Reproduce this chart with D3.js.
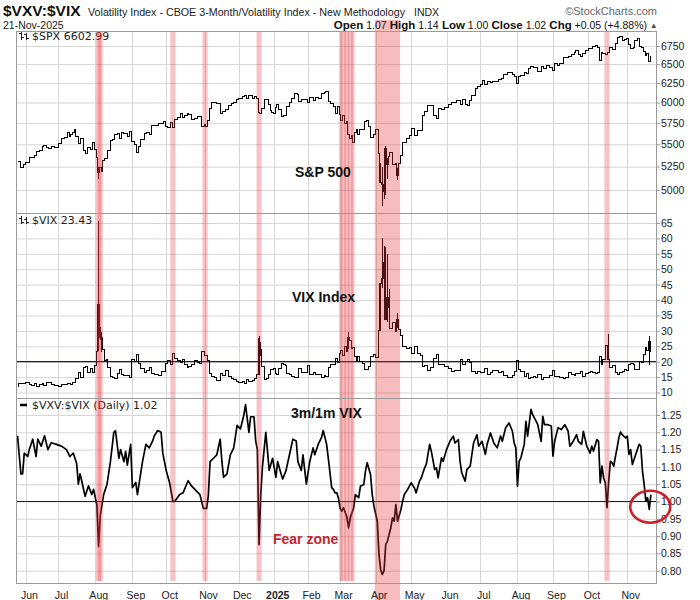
<!DOCTYPE html>
<html>
<head>
<meta charset="utf-8">
<script src="https://cdn.jsdelivr.net/npm/d3@7"></script>
<style>
  body { margin: 0; background: #fff; }
  svg { display: block; }
  text { font-family: "Liberation Sans", Arial, sans-serif; }
</style>
</head>
<body>
<svg id="chart" width="700" height="600"></svg>
<script>
'use strict';

// ---- data ----
const holidays = ['2024-05-27','2024-06-19','2024-07-04','2024-09-02','2024-11-28','2024-12-25',
  '2025-01-01','2025-01-09','2025-01-20','2025-02-17','2025-04-18','2025-05-26','2025-06-19',
  '2025-07-04','2025-09-01'];

const monthLabels = ['Jun','Jul','Aug','Sep','Oct','Nov','Dec','2025','Feb','Mar','Apr','May',
  'Jun','Jul','Aug','Sep','Oct','Nov'];

const spxTicks   = [5000, 5250, 5500, 5750, 6000, 6250, 6500, 6750];
const vixTicks   = [10, 15, 20, 25, 30, 35, 40, 45, 50, 55, 60, 65];
const ratioTicks = [0.80, 0.85, 0.90, 0.95, 1.00, 1.05, 1.10, 1.15, 1.20, 1.25];

// highlighted "fear" periods [start, end]
const fearBands = [
  ['2024-08-02','2024-08-07'], ['2024-08-05','2024-08-06'],
  ['2024-10-04','2024-10-08'], ['2024-10-31','2024-11-04'], ['2024-12-17','2024-12-19'],
  ['2025-03-03','2025-03-13'], ['2025-03-04','2025-03-04'], ['2025-03-06','2025-03-06'],
  ['2025-03-10','2025-03-10'], ['2025-03-12','2025-03-12'],
  ['2025-10-15','2025-10-17']
];
const bigBand = ['2025-04-01','2025-04-22'];

const spxClose = [
  ['2024-05-24',5305],['2024-05-28',5306],['2024-05-30',5236],['2024-05-31',5278],
  ['2024-06-04',5291],['2024-06-06',5352],['2024-06-07',5347],['2024-06-11',5375],['2024-06-12',5421],
  ['2024-06-14',5431],['2024-06-17',5473],['2024-06-18',5487],['2024-06-21',5465],['2024-06-24',5448],
  ['2024-06-26',5478],['2024-06-28',5460],
  ['2024-07-02',5509],['2024-07-05',5567],['2024-07-09',5577],['2024-07-10',5633],['2024-07-11',5585],
  ['2024-07-12',5615],['2024-07-15',5631],['2024-07-16',5667],['2024-07-17',5589],['2024-07-19',5505],
  ['2024-07-22',5564],['2024-07-24',5427],['2024-07-25',5399],['2024-07-26',5459],['2024-07-29',5464],
  ['2024-07-30',5436],['2024-07-31',5522],
  ['2024-08-01',5446],['2024-08-02',5346],['2024-08-05',5186],['2024-08-06',5240],['2024-08-07',5199],
  ['2024-08-08',5319],['2024-08-09',5344],['2024-08-12',5344],['2024-08-13',5434],['2024-08-15',5543],
  ['2024-08-16',5554],['2024-08-19',5608],['2024-08-21',5621],['2024-08-22',5571],['2024-08-23',5634],
  ['2024-08-27',5625],['2024-08-29',5592],['2024-08-30',5648],
  ['2024-09-03',5529],['2024-09-05',5503],['2024-09-06',5408],['2024-09-09',5471],['2024-09-11',5555],
  ['2024-09-13',5626],['2024-09-16',5633],['2024-09-18',5618],['2024-09-19',5714],['2024-09-23',5718],
  ['2024-09-26',5745],['2024-09-27',5738],['2024-09-30',5762],
  ['2024-10-01',5709],['2024-10-03',5700],['2024-10-04',5751],['2024-10-07',5696],['2024-10-09',5792],
  ['2024-10-11',5815],['2024-10-14',5859],['2024-10-15',5815],['2024-10-17',5841],['2024-10-18',5864],
  ['2024-10-21',5853],['2024-10-23',5797],['2024-10-25',5808],['2024-10-28',5823],['2024-10-29',5832],
  ['2024-10-31',5705],
  ['2024-11-01',5728],['2024-11-04',5712],['2024-11-05',5782],['2024-11-06',5929],['2024-11-08',5996],
  ['2024-11-11',6001],['2024-11-13',5985],['2024-11-15',5870],['2024-11-18',5894],['2024-11-20',5917],
  ['2024-11-22',5969],['2024-11-25',5987],['2024-11-27',5999],['2024-11-29',6032],
  ['2024-12-03',6050],['2024-12-05',6075],['2024-12-06',6090],['2024-12-09',6053],['2024-12-11',6084],
  ['2024-12-13',6051],['2024-12-16',6074],['2024-12-17',6051],['2024-12-18',5872],['2024-12-19',5867],
  ['2024-12-20',5931],['2024-12-24',6040],['2024-12-26',6037],['2024-12-27',5971],['2024-12-30',5907],
  ['2024-12-31',5882],
  ['2025-01-02',5869],['2025-01-03',5942],['2025-01-06',5975],['2025-01-07',5909],['2025-01-08',5918],
  ['2025-01-10',5827],['2025-01-13',5836],['2025-01-14',5843],['2025-01-15',5950],['2025-01-17',5997],
  ['2025-01-21',6049],['2025-01-23',6119],['2025-01-24',6101],['2025-01-27',6012],['2025-01-29',6039],
  ['2025-01-31',6041],
  ['2025-02-03',5994],['2025-02-05',6061],['2025-02-07',6026],['2025-02-10',6066],['2025-02-12',6052],
  ['2025-02-14',6115],['2025-02-18',6129],['2025-02-19',6144],['2025-02-21',6013],['2025-02-24',5983],
  ['2025-02-26',5956],['2025-02-27',5861],['2025-02-28',5955],
  ['2025-03-03',5850],['2025-03-04',5778],['2025-03-05',5842],['2025-03-06',5739],['2025-03-07',5770],
  ['2025-03-10',5614],['2025-03-11',5572],['2025-03-12',5599],['2025-03-13',5522],['2025-03-14',5639],
  ['2025-03-17',5675],['2025-03-18',5615],['2025-03-19',5675],['2025-03-21',5667],['2025-03-24',5768],
  ['2025-03-25',5777],['2025-03-26',5712],['2025-03-28',5581],['2025-03-31',5612],
  ['2025-04-02',5671],['2025-04-03',5397],['2025-04-04',5074],['2025-04-07',5062],['2025-04-08',4982],
  ['2025-04-09',5457],['2025-04-10',5268],['2025-04-11',5363],['2025-04-14',5406],['2025-04-16',5276],
  ['2025-04-17',5283],['2025-04-21',5158],['2025-04-22',5288],['2025-04-23',5376],['2025-04-25',5525],
  ['2025-04-29',5561],
  ['2025-05-01',5604],['2025-05-02',5687],['2025-05-06',5607],['2025-05-08',5664],['2025-05-09',5660],
  ['2025-05-12',5844],['2025-05-14',5892],['2025-05-16',5958],['2025-05-19',5964],['2025-05-21',5845],
  ['2025-05-23',5802],['2025-05-27',5922],['2025-05-29',5912],
  ['2025-06-02',5936],['2025-06-04',5971],['2025-06-06',6000],['2025-06-09',6006],['2025-06-11',6022],
  ['2025-06-13',5977],['2025-06-16',6033],['2025-06-18',5981],['2025-06-20',5967],['2025-06-23',6025],
  ['2025-06-25',6092],['2025-06-27',6173],['2025-06-30',6205],
  ['2025-07-02',6227],['2025-07-03',6279],['2025-07-07',6230],['2025-07-09',6263],['2025-07-11',6260],
  ['2025-07-14',6268],['2025-07-16',6264],['2025-07-18',6297],['2025-07-21',6306],['2025-07-23',6359],
  ['2025-07-25',6389],['2025-07-28',6390],['2025-07-30',6363],['2025-07-31',6339],
  ['2025-08-01',6238],['2025-08-04',6330],['2025-08-06',6345],['2025-08-08',6389],['2025-08-11',6374],
  ['2025-08-12',6446],['2025-08-14',6469],['2025-08-15',6450],['2025-08-18',6449],['2025-08-20',6396],
  ['2025-08-22',6467],['2025-08-25',6440],['2025-08-27',6481],['2025-08-29',6460],
  ['2025-09-02',6416],['2025-09-04',6502],['2025-09-05',6482],['2025-09-09',6513],['2025-09-11',6587],
  ['2025-09-12',6584],['2025-09-16',6607],['2025-09-18',6632],['2025-09-19',6664],['2025-09-22',6693],
  ['2025-09-24',6638],['2025-09-25',6605],['2025-09-26',6644],['2025-09-30',6688],
  ['2025-10-02',6715],['2025-10-03',6716],['2025-10-06',6740],['2025-10-08',6753],['2025-10-09',6735],
  ['2025-10-10',6553],['2025-10-13',6655],['2025-10-14',6644],['2025-10-16',6630],['2025-10-17',6664],
  ['2025-10-20',6735],['2025-10-22',6699],['2025-10-24',6792],['2025-10-27',6875],['2025-10-28',6891],
  ['2025-10-30',6822],['2025-10-31',6840],
  ['2025-11-03',6852],['2025-11-04',6771],['2025-11-06',6720],['2025-11-07',6728],['2025-11-10',6832],
  ['2025-11-12',6851],['2025-11-13',6737],['2025-11-14',6734],['2025-11-17',6672],['2025-11-18',6617],
  ['2025-11-19',6642],['2025-11-20',6538],['2025-11-21',6603]
];

// wide-range days [date, low, high]
const spxRange = [
  ['2024-08-05',5120,5250],['2025-04-03',5390,5500],['2025-04-04',5069,5292],['2025-04-07',4835,5246],
  ['2025-04-08',4910,5267],['2025-04-09',4950,5481],['2025-04-10',5116,5347],['2025-04-21',5101,5233]
];

const vixClose = [
  ['2024-05-24',11.9],['2024-05-28',12.9],['2024-05-30',13.0],['2024-05-31',12.9],
  ['2024-06-04',13.1],['2024-06-06',12.6],['2024-06-07',12.2],['2024-06-11',12.9],['2024-06-12',12.0],
  ['2024-06-14',12.7],['2024-06-17',12.8],['2024-06-18',12.3],['2024-06-21',13.2],['2024-06-24',13.3],
  ['2024-06-26',12.6],['2024-06-28',12.4],
  ['2024-07-02',12.0],['2024-07-05',12.5],['2024-07-09',12.5],['2024-07-10',12.9],['2024-07-11',12.9],
  ['2024-07-12',12.5],['2024-07-15',13.1],['2024-07-16',13.2],['2024-07-17',14.5],['2024-07-19',16.5],
  ['2024-07-22',14.9],['2024-07-24',18.0],['2024-07-25',18.5],['2024-07-26',16.4],['2024-07-29',16.6],
  ['2024-07-30',17.7],['2024-07-31',16.4],
  ['2024-08-01',18.6],['2024-08-02',23.4],['2024-08-05',38.6],['2024-08-06',27.7],['2024-08-07',27.9],
  ['2024-08-08',23.8],['2024-08-09',20.4],['2024-08-12',20.7],['2024-08-13',18.1],['2024-08-15',15.2],
  ['2024-08-16',14.8],['2024-08-19',14.7],['2024-08-21',16.3],['2024-08-22',17.6],['2024-08-23',15.9],
  ['2024-08-27',15.4],['2024-08-29',15.6],['2024-08-30',15.0],
  ['2024-09-03',20.7],['2024-09-05',19.9],['2024-09-06',22.4],['2024-09-09',19.5],['2024-09-11',17.7],
  ['2024-09-13',16.6],['2024-09-16',17.1],['2024-09-18',18.2],['2024-09-19',16.3],['2024-09-23',16.0],
  ['2024-09-26',15.4],['2024-09-27',16.9],['2024-09-30',16.7],
  ['2024-10-01',19.3],['2024-10-03',20.5],['2024-10-04',19.2],['2024-10-07',22.6],['2024-10-09',20.9],
  ['2024-10-11',20.5],['2024-10-14',19.7],['2024-10-15',20.6],['2024-10-17',19.1],['2024-10-18',18.0],
  ['2024-10-21',18.4],['2024-10-23',19.2],['2024-10-25',20.3],['2024-10-28',19.8],['2024-10-29',19.3],
  ['2024-10-31',23.2],
  ['2024-11-01',21.9],['2024-11-04',22.0],['2024-11-05',20.5],['2024-11-06',16.3],['2024-11-08',15.2],
  ['2024-11-11',15.0],['2024-11-13',14.0],['2024-11-15',16.1],['2024-11-18',15.6],['2024-11-20',17.2],
  ['2024-11-22',15.2],['2024-11-25',14.6],['2024-11-27',14.1],['2024-11-29',13.5],
  ['2024-12-03',13.3],['2024-12-05',13.5],['2024-12-06',12.8],['2024-12-09',14.2],['2024-12-11',13.6],
  ['2024-12-13',13.8],['2024-12-16',14.7],['2024-12-17',15.9],['2024-12-18',27.6],['2024-12-19',24.1],
  ['2024-12-20',18.4],['2024-12-24',14.3],['2024-12-26',14.7],['2024-12-27',15.9],['2024-12-30',17.4],
  ['2024-12-31',17.4],
  ['2025-01-02',17.9],['2025-01-03',16.1],['2025-01-06',16.0],['2025-01-07',17.8],['2025-01-08',17.7],
  ['2025-01-10',19.5],['2025-01-13',19.2],['2025-01-14',18.7],['2025-01-15',16.1],['2025-01-17',16.0],
  ['2025-01-21',15.1],['2025-01-23',15.0],['2025-01-24',14.9],['2025-01-27',17.9],['2025-01-29',16.6],
  ['2025-01-31',16.4],
  ['2025-02-03',18.6],['2025-02-05',15.8],['2025-02-07',16.5],['2025-02-10',15.8],['2025-02-12',15.9],
  ['2025-02-14',14.8],['2025-02-18',15.4],['2025-02-19',15.3],['2025-02-21',18.2],['2025-02-24',19.0],
  ['2025-02-26',19.1],['2025-02-27',21.1],['2025-02-28',19.6],
  ['2025-03-03',22.8],['2025-03-04',23.5],['2025-03-05',21.9],['2025-03-06',24.9],['2025-03-07',23.4],
  ['2025-03-10',27.9],['2025-03-11',26.9],['2025-03-12',24.2],['2025-03-13',24.7],['2025-03-14',21.8],
  ['2025-03-17',20.5],['2025-03-18',21.7],['2025-03-19',19.9],['2025-03-21',19.3],['2025-03-24',17.5],
  ['2025-03-25',17.5],['2025-03-26',18.3],['2025-03-28',21.7],['2025-03-31',22.3],
  ['2025-04-02',21.5],['2025-04-03',30.0],['2025-04-04',45.3],['2025-04-07',47.0],['2025-04-08',52.3],
  ['2025-04-09',33.6],['2025-04-10',40.7],['2025-04-11',37.6],['2025-04-14',30.9],['2025-04-16',32.6],
  ['2025-04-17',29.7],['2025-04-21',33.8],['2025-04-22',30.6],['2025-04-23',28.5],['2025-04-25',24.8],
  ['2025-04-29',24.2],
  ['2025-05-01',24.6],['2025-05-02',22.7],['2025-05-06',24.8],['2025-05-08',22.5],['2025-05-09',21.9],
  ['2025-05-12',18.4],['2025-05-14',18.6],['2025-05-16',17.2],['2025-05-19',18.1],['2025-05-21',20.9],
  ['2025-05-23',22.3],['2025-05-27',19.0],['2025-05-29',19.2],
  ['2025-06-02',18.4],['2025-06-04',17.7],['2025-06-06',16.8],['2025-06-09',17.2],['2025-06-11',17.3],
  ['2025-06-13',20.8],['2025-06-16',19.1],['2025-06-18',20.1],['2025-06-20',20.6],['2025-06-23',19.8],
  ['2025-06-25',16.8],['2025-06-27',16.3],['2025-06-30',16.7],
  ['2025-07-02',16.6],['2025-07-03',16.4],['2025-07-07',17.8],['2025-07-09',15.9],['2025-07-11',16.4],
  ['2025-07-14',17.2],['2025-07-16',17.2],['2025-07-18',16.4],['2025-07-21',16.7],['2025-07-23',15.4],
  ['2025-07-25',14.9],['2025-07-28',15.0],['2025-07-30',15.5],['2025-07-31',16.7],
  ['2025-08-01',20.4],['2025-08-04',17.5],['2025-08-06',16.8],['2025-08-08',15.2],['2025-08-11',16.3],
  ['2025-08-12',14.7],['2025-08-14',14.8],['2025-08-15',15.1],['2025-08-18',15.0],['2025-08-20',15.7],
  ['2025-08-22',14.2],['2025-08-25',14.8],['2025-08-27',14.9],['2025-08-29',15.4],
  ['2025-09-02',17.2],['2025-09-04',15.3],['2025-09-05',15.2],['2025-09-09',15.0],['2025-09-11',14.7],
  ['2025-09-12',14.8],['2025-09-16',16.4],['2025-09-18',15.7],['2025-09-19',15.5],['2025-09-22',16.1],
  ['2025-09-24',16.2],['2025-09-25',16.7],['2025-09-26',15.3],['2025-09-30',16.3],
  ['2025-10-02',16.6],['2025-10-03',16.7],['2025-10-06',16.4],['2025-10-08',16.3],['2025-10-09',16.4],
  ['2025-10-10',21.7],['2025-10-13',19.0],['2025-10-14',20.8],['2025-10-16',25.3],['2025-10-17',20.8],
  ['2025-10-20',18.2],['2025-10-22',18.6],['2025-10-24',16.4],['2025-10-27',15.8],['2025-10-28',16.4],
  ['2025-10-30',16.9],['2025-10-31',17.4],
  ['2025-11-03',17.2],['2025-11-04',19.0],['2025-11-06',19.5],['2025-11-07',19.1],['2025-11-10',17.6],
  ['2025-11-12',17.5],['2025-11-13',20.0],['2025-11-14',19.8],['2025-11-17',22.4],['2025-11-18',24.7],
  ['2025-11-19',23.7],['2025-11-20',26.4],['2025-11-21',23.4]
];

const vixRange = [
  ['2024-08-05',23.4,65.7],['2024-08-06',27.0,31.2],['2024-08-07',23.0,29.7],['2024-12-18',15.6,28.3],
  ['2024-12-19',22.0,26.5],['2025-03-10',24.0,29.5],['2025-04-04',30.0,45.6],['2025-04-07',44.0,60.1],
  ['2025-04-08',36.0,57.5],['2025-04-09',33.6,57.1],['2025-04-10',33.0,54.9],['2025-04-11',36.0,43.5],
  ['2025-04-21',31.0,35.8],['2025-10-17',20.8,29.0],['2025-11-20',19.0,28.3]
];

const ratioClose = [
  ['2024-05-24',1.19],['2024-05-29',1.08],['2024-05-30',1.08],['2024-05-31',1.14],
  ['2024-06-04',1.13],['2024-06-05',1.15],['2024-06-07',1.18],['2024-06-11',1.13],['2024-06-12',1.18],
  ['2024-06-14',1.16],['2024-06-18',1.19],['2024-06-21',1.15],['2024-06-25',1.17],['2024-06-28',1.165],
  ['2024-07-03',1.16],['2024-07-09',1.15],['2024-07-11',1.13],['2024-07-15',1.14],['2024-07-17',1.11],
  ['2024-07-18',1.05],['2024-07-19',1.08],['2024-07-22',1.06],['2024-07-24',1.015],['2024-07-26',1.045],
  ['2024-07-30',1.02],['2024-07-31',1.035],
  ['2024-08-02',0.99],['2024-08-05',0.87],['2024-08-06',0.96],['2024-08-08',1.02],['2024-08-12',1.05],
  ['2024-08-14',1.115],['2024-08-16',1.20],['2024-08-19',1.205],['2024-08-21',1.125],['2024-08-22',1.15],
  ['2024-08-26',1.115],['2024-08-27',1.145],['2024-08-28',1.105],['2024-08-30',1.165],
  ['2024-09-03',1.04],['2024-09-05',1.055],['2024-09-06',1.02],['2024-09-11',1.115],['2024-09-13',1.165],
  ['2024-09-17',1.155],['2024-09-19',1.175],['2024-09-20',1.19],['2024-09-24',1.205],['2024-09-26',1.20],
  ['2024-09-27',1.14],
  ['2024-10-01',1.09],['2024-10-03',1.055],['2024-10-07',1.00],['2024-10-08',1.00],['2024-10-11',1.02],
  ['2024-10-15',1.025],['2024-10-18',1.06],['2024-10-22',1.045],['2024-10-25',1.03],['2024-10-29',1.02],
  ['2024-10-31',0.98],
  ['2024-11-04',0.98],['2024-11-05',1.02],['2024-11-06',1.115],['2024-11-08',1.125],['2024-11-12',1.135],
  ['2024-11-14',1.18],['2024-11-15',1.115],['2024-11-18',1.07],['2024-11-20',1.08],['2024-11-22',1.135],
  ['2024-11-26',1.155],['2024-11-29',1.22],
  ['2024-12-03',1.21],['2024-12-05',1.25],['2024-12-06',1.28],['2024-12-10',1.20],['2024-12-11',1.245],
  ['2024-12-13',1.245],['2024-12-16',1.175],['2024-12-17',1.15],['2024-12-18',0.875],['2024-12-19',1.02],
  ['2024-12-20',1.10],['2024-12-24',1.20],['2024-12-26',1.145],['2024-12-27',1.09],['2024-12-31',1.125],
  ['2025-01-03',1.07],['2025-01-06',1.115],['2025-01-08',1.08],['2025-01-10',1.065],['2025-01-14',1.09],
  ['2025-01-16',1.135],['2025-01-21',1.18],['2025-01-23',1.175],['2025-01-24',1.115],['2025-01-28',1.09],
  ['2025-01-29',1.135],['2025-01-31',1.05],
  ['2025-02-04',1.115],['2025-02-06',1.155],['2025-02-07',1.135],['2025-02-11',1.165],['2025-02-13',1.185],
  ['2025-02-14',1.205],['2025-02-19',1.165],['2025-02-20',1.125],['2025-02-24',1.04],['2025-02-25',1.035],
  ['2025-02-26',1.025],['2025-02-27',1.025],['2025-02-28',1.01],
  ['2025-03-03',0.98],['2025-03-04',0.972],['2025-03-05',0.982],['2025-03-07',0.955],['2025-03-10',0.924],
  ['2025-03-11',0.953],['2025-03-13',0.982],['2025-03-14',1.02],['2025-03-18',1.011],['2025-03-19',1.044],
  ['2025-03-21',1.049],['2025-03-24',1.088],['2025-03-25',1.112],['2025-03-27',1.078],['2025-03-28',1.02],
  ['2025-03-31',0.987],
  ['2025-04-02',0.943],['2025-04-03',0.847],['2025-04-04',0.803],['2025-04-07',0.789],['2025-04-08',0.80],
  ['2025-04-09',0.876],['2025-04-10',0.885],['2025-04-11',0.905],['2025-04-14',0.924],['2025-04-15',0.953],
  ['2025-04-16',0.943],['2025-04-17',0.991],['2025-04-21',0.943],['2025-04-23',0.977],['2025-04-24',1.001],
  ['2025-04-25',1.02],['2025-04-29',1.035],
  ['2025-05-01',1.054],['2025-05-05',1.039],['2025-05-06',1.025],['2025-05-08',1.059],['2025-05-09',1.068],
  ['2025-05-13',1.097],['2025-05-14',1.107],['2025-05-16',1.165],['2025-05-19',1.145],['2025-05-21',1.092],
  ['2025-05-22',1.097],['2025-05-23',1.068],['2025-05-28',1.126],['2025-05-29',1.116],
  ['2025-06-02',1.15],['2025-06-04',1.174],['2025-06-06',1.189],['2025-06-09',1.169],['2025-06-11',1.179],
  ['2025-06-12',1.116],['2025-06-13',1.083],['2025-06-17',1.059],['2025-06-18',1.092],['2025-06-23',1.102],
  ['2025-06-25',1.169],['2025-06-27',1.193],['2025-06-30',1.16],
  ['2025-07-02',1.174],['2025-07-07',1.136],['2025-07-08',1.165],['2025-07-10',1.198],['2025-07-14',1.169],
  ['2025-07-16',1.155],['2025-07-18',1.189],['2025-07-21',1.174],['2025-07-23',1.213],['2025-07-25',1.227],
  ['2025-07-29',1.203],['2025-07-30',1.17],['2025-07-31',1.155],
  ['2025-08-01',1.044],['2025-08-04',1.116],['2025-08-05',1.126],['2025-08-07',1.165],['2025-08-08',1.232],
  ['2025-08-11',1.189],['2025-08-13',1.266],['2025-08-14',1.251],['2025-08-18',1.232],['2025-08-19',1.222],
  ['2025-08-21',1.174],['2025-08-22',1.246],['2025-08-25',1.222],['2025-08-27',1.222],['2025-08-29',1.218],
  ['2025-09-02',1.131],['2025-09-03',1.174],['2025-09-05',1.213],['2025-09-09',1.208],['2025-09-11',1.222],
  ['2025-09-15',1.203],['2025-09-16',1.16],['2025-09-18',1.174],['2025-09-22',1.193],['2025-09-23',1.174],
  ['2025-09-25',1.165],['2025-09-26',1.203],['2025-09-30',1.16],
  ['2025-10-02',1.14],['2025-10-03',1.16],['2025-10-06',1.145],['2025-10-08',1.179],['2025-10-09',1.174],
  ['2025-10-10',1.054],['2025-10-13',1.102],['2025-10-14',1.068],['2025-10-15',1.054],['2025-10-16',0.982],
  ['2025-10-17',1.059],['2025-10-20',1.116],['2025-10-21',1.112],['2025-10-22',1.102],['2025-10-23',1.13],
  ['2025-10-24',1.155],['2025-10-27',1.184],['2025-10-28',1.201],['2025-10-29',1.193],['2025-10-31',1.184],
  ['2025-11-03',1.189],['2025-11-04',1.136],['2025-11-05',1.15],['2025-11-06',1.107],['2025-11-10',1.136],
  ['2025-11-12',1.165],['2025-11-13',1.16],['2025-11-14',1.088],['2025-11-17',1.049],['2025-11-18',1.001],
  ['2025-11-19',1.011],['2025-11-20',0.977],['2025-11-21',1.02]
];

// ---- trading-day axis ----
const parse = d3.utcParse('%Y-%m-%d'),
      fmt   = d3.utcFormat('%Y-%m-%d');
const days = d3.utcDays(parse('2024-05-24'), parse('2025-11-22'))
               .filter( (d) => d.getUTCDay() % 6 !== 0 && !holidays.includes(fmt(d)) )
               .map(fmt);
const dayIndex = new Map( days.map( (d, i) => [d, i] ) );

const L = 16, R = 657;
const x  = d3.scaleLinear().domain([-0.9, 378.6]).range([L, R]);
const xd = (d) => x( dayIndex.get(d) );
const has = (d) => dayIndex.has(d[0]);

// first trading day of each month (skip the partial May)
const monthStarts = d3.groups( days, (d) => d.slice(0, 7) ).map( (g) => g[1][0] ).slice(1);

// panels
const panels = [
  { top: 31,  bottom: 213, y: d3.scaleLog().domain([6750, 5000]).range([46, 190]),
    ticks: spxTicks,   fmt: d3.format('d') },
  { top: 213, bottom: 398, y: d3.scaleLinear().domain([65, 10]).range([223, 392.5]),
    ticks: vixTicks,   fmt: d3.format('d') },
  { top: 398, bottom: 583, y: d3.scaleLinear().domain([1.25, 0.80]).range([415, 570.7]),
    ticks: ratioTicks, fmt: d3.format('.2f') }
];
const [pSpx, pVix, pRatio] = panels;

const svg = d3.select('#chart');
const defs = svg.append('defs');

panels.forEach( (p, i) => {
  defs.append('clipPath').attr('id', 'clip' + i)
    .append('rect').attr('x', L).attr('y', p.top).attr('width', R - L).attr('height', p.bottom - p.top);

  // horizontal grid
  svg.append('g')
      .attr('transform', `translate(${L},0)`)
      .call( d3.axisRight(p.y).tickValues(p.ticks).tickSize(R - L).tickFormat('') )
      .call( (g) => g.select('.domain').remove() )
      .selectAll('line').attr('stroke', '#d6d6d6');

  // vertical grid
  svg.append('g').selectAll('line')
      .data(monthStarts).enter().append('line')
      .attr('x1', (d) => Math.round(xd(d)) + 0.5).attr('x2', (d) => Math.round(xd(d)) + 0.5)
      .attr('y1', p.top).attr('y2', p.bottom)
      .attr('stroke', '#d6d6d6');

  // right axis labels
  svg.append('g')
      .attr('transform', `translate(${R},0)`)
      .call( d3.axisRight(p.y).tickValues(p.ticks).tickSize(3).tickPadding(1).tickFormat(p.fmt) )
      .call( (g) => g.select('.domain').remove() )
      .call( (g) => g.selectAll('line').attr('stroke', '#999') )
      .call( (g) => g.selectAll('text')
                     .style('font-family', '"Liberation Sans", Arial, sans-serif')
                     .style('font-size', '10.5px').attr('fill', '#222') );
});

// reference lines
[[pVix, 20], [pRatio, 1.0]].forEach( ([p, v]) => {
  svg.append('line')
      .attr('x1', L).attr('x2', R).attr('y1', p.y(v)).attr('y2', p.y(v))
      .attr('stroke', '#1b1b55').attr('stroke-width', 1.2);
});

// price-style series
const stepLine = (p) => d3.line().x( (d) => xd(d[0]) ).y( (d) => p.y(d[1]) ).curve( d3.curveStep );

svg.append('path')
    .datum( spxClose.filter(has) )
    .attr('clip-path', 'url(#clip0)')
    .attr('d', stepLine(pSpx))
    .attr('fill', 'none').attr('stroke', '#000').attr('stroke-width', 1)
    .attr('shape-rendering', 'crispEdges');

svg.append('path')
    .datum( vixClose.filter(has) )
    .attr('clip-path', 'url(#clip1)')
    .attr('d', stepLine(pVix))
    .attr('fill', 'none').attr('stroke', '#000').attr('stroke-width', 1)
    .attr('shape-rendering', 'crispEdges');

[[pSpx, spxRange, 0], [pVix, vixRange, 1]].forEach( ([p, data, i]) => {
  svg.append('g').attr('clip-path', `url(#clip${i})`)
    .selectAll('line').data( data.filter(has) ).enter().append('line')
      .attr('x1', (d) => xd(d[0])).attr('x2', (d) => xd(d[0]))
      .attr('y1', (d) => p.y(d[1])).attr('y2', (d) => p.y(d[2]))
      .attr('stroke', '#000').attr('stroke-width', 1)
      .attr('shape-rendering', 'crispEdges');
});

// ratio line
svg.append('path')
    .datum( ratioClose.filter(has) )
    .attr('clip-path', 'url(#clip2)')
    .attr('d', d3.line().x( (d) => xd(d[0]) ).y( (d) => pRatio.y(d[1]) ))
    .attr('fill', 'none').attr('stroke', '#000').attr('stroke-width', 1.7)
    .attr('stroke-linejoin', 'round');

// panel legends
const legend = [
  { y: 39.5, text: '$SPX 6602.99', icon: 'bars' },
  { y: 224,  text: '$VIX 23.43',   icon: 'bars' },
  { y: 409,  text: '$VXV:$VIX (Daily) 1.02', icon: 'line' }
];
legend.forEach( (l) => {
  if( l.icon === 'bars' ) {
    svg.append('path')
        .attr('d', `M21.5,${l.y-8}v8M19,${l.y-6}h2.5M21.5,${l.y-2}h2.5M26.5,${l.y-7}v7M24,${l.y-5}h2.5M26.5,${l.y-1.5}h2.5`)
        .attr('stroke', '#222').attr('fill', 'none').attr('shape-rendering', 'crispEdges');
  } else {
    svg.append('line').attr('x1', 20).attr('x2', 27).attr('y1', l.y - 4).attr('y2', l.y - 4)
        .attr('stroke', '#000').attr('stroke-width', 2.5);
  }
  svg.append('text')
      .attr('x', 32).attr('y', l.y)
      .style('font-family', '"DejaVu Sans", Verdana, sans-serif')
      .style('font-size', '11px').attr('fill', '#222')
      .text(l.text);
});

// highlighted bands (drawn over the lines, translucent)
const bandX = (b) => [ xd(b[0]) - 0.85, xd(b[1]) + 0.85 ];
svg.append('g').selectAll('rect')
    .data(fearBands).enter().append('rect')
      .attr('x', (b) => bandX(b)[0])
      .attr('width', (b) => bandX(b)[1] - bandX(b)[0])
      .attr('y', 31).attr('height', 581 - 31)
      .attr('fill', '#e8383a').attr('fill-opacity', 0.3);

svg.append('rect')
    .attr('x', bandX(bigBand)[0]).attr('width', bandX(bigBand)[1] - bandX(bigBand)[0])
    .attr('y', 20).attr('height', 580)
    .attr('fill', '#e8383a').attr('fill-opacity', 0.33);

// panel borders
panels.forEach( (p) => {
  svg.append('rect')
      .attr('x', L + 0.5).attr('y', p.top + 0.5)
      .attr('width', R - L - 1).attr('height', p.bottom - p.top)
      .attr('fill', 'none').attr('stroke', '#9a9a9a');
});

// x axis
svg.append('g')
    .attr('transform', 'translate(0,583)')
    .call( d3.axisBottom(x)
             .tickValues( monthStarts.map( (d) => dayIndex.get(d) ) )
             .tickSize(0).tickPadding(9)
             .tickFormat( (d, i) => monthLabels[i] ) )
    .call( (g) => g.select('.domain').remove() )
    .call( (g) => g.selectAll('text')
                   .attr('x', 3)
                   .style('font-family', '"Liberation Sans", Arial, sans-serif')
                   .style('font-size', '10.5px').attr('fill', '#222')
                   .style('font-weight', (d, i) => monthLabels[i] === '2025' ? 'bold' : 'normal') );

// panel titles
const titles = [
  { x: 295, y: 177, text: 'S&P 500',   fill: '#111' },
  { x: 292, y: 302, text: 'VIX Index', fill: '#111' },
  { x: 291, y: 418, text: '3m/1m VIX', fill: '#111' },
  { x: 273, y: 544, text: 'Fear zone', fill: '#c4252b' }
];
svg.append('g').selectAll('text')
    .data(titles).enter().append('text')
      .attr('x', (d) => d.x).attr('y', (d) => d.y)
      .style('font-size', '14px').style('font-weight', 'bold')
      .attr('fill', (d) => d.fill)
      .text( (d) => d.text );

// header
svg.append('text').attr('x', 3).attr('y', 15.5)
    .style('font-size', '15.5px').style('font-weight', 'bold').attr('fill', '#111')
    .text('$VXV:$VIX');
svg.append('text').attr('x', 88).attr('y', 15.5)
    .style('font-size', '10.5px').attr('fill', '#222')
    .attr('textLength', 317).attr('lengthAdjust', 'spacingAndGlyphs')
    .text('Volatility Index - CBOE 3-Month/Volatility Index - New Methodology');
svg.append('text').attr('x', 414).attr('y', 15.5)
    .style('font-size', '10.5px').attr('fill', '#222')
    .text('INDX');
svg.append('text').attr('x', 657).attr('y', 15).attr('text-anchor', 'end')
    .style('font-size', '11px').attr('fill', '#666')
    .text('\u00A9StockCharts.com');
svg.append('text').attr('x', 3).attr('y', 28.5)
    .style('font-size', '10.5px').attr('fill', '#222')
    .text('21-Nov-2025');

const ohlc = [['Open', '1.07'], ['High', '1.14'], ['Low', '1.00'], ['Close', '1.02'], ['Chg', '+0.05 (+4.88%)']];
const hdr = svg.append('text').attr('x', 647).attr('y', 28.5).attr('text-anchor', 'end').attr('fill', '#111');
ohlc.forEach( ([k, v], i) => {
  hdr.append('tspan').style('font-size', '11.5px').style('font-weight', 'bold').text( (i ? ' ' : '') + k );
  hdr.append('tspan').style('font-size', '10.5px').text(' ' + v);
});
svg.append('text').attr('x', 650).attr('y', 27.5)
    .style('font-size', '7.5px').attr('fill', '#444')
    .text('\u25B2');

// red circle around the latest reading
const lastDay = ratioClose[ratioClose.length - 2];
svg.append('ellipse')
    .attr('cx', xd(lastDay[0]) + 1).attr('cy', pRatio.y(0.985))
    .attr('rx', 20).attr('ry', 16)
    .attr('fill', 'none').attr('stroke', '#cc1f2a').attr('stroke-width', 2.6);
</script>
</body>
</html>
